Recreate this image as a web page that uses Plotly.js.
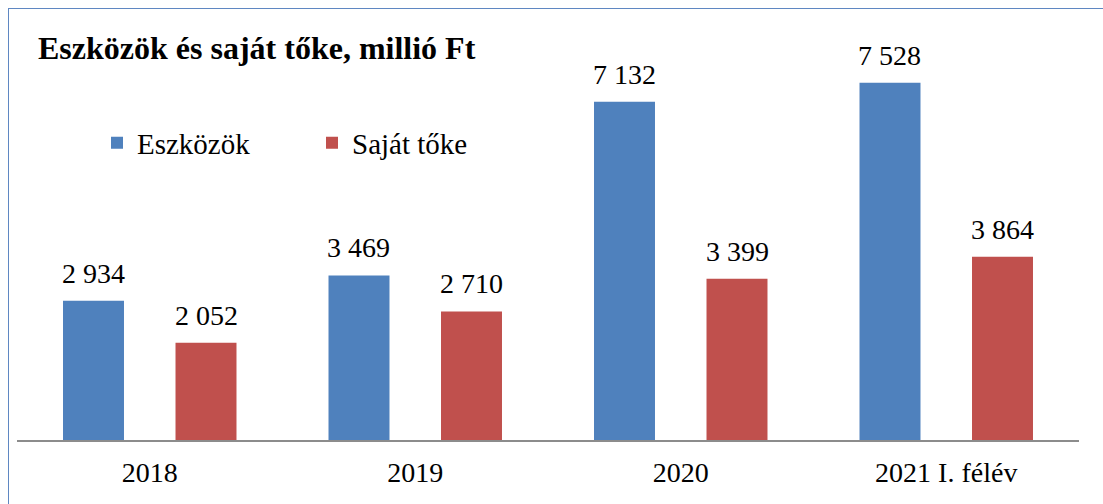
<!DOCTYPE html>
<html>
<head>
<meta charset="utf-8">
<script src="https://cdn.plot.ly/plotly-3.0.1.min.js"></script>
<style>
html,body{margin:0;padding:0;background:#fff;overflow:hidden;}
#wrap{position:relative;width:1103px;height:504px;overflow:hidden;}
#chart{width:1103px;height:504px;}
#frame{position:absolute;left:8px;top:8px;width:1200px;height:600px;border-left:1.5px solid #5F87C2;border-top:1.5px solid #5F87C2;pointer-events:none;}
</style>
</head>
<body>
<div id="wrap"><div id="chart"></div><div id="frame"></div></div>
<script>
var categories = ['2018', '2019', '2020', '2021 I. félév'];
var eszkozok = [2934, 3469, 7132, 7528];
var sajatToke = [2052, 2710, 3399, 3864];
var seriesNames = ['Eszközök', 'Saját tőke'];
var chartTitle = 'Eszközök és saját tőke, millió Ft';

var W = 1103, H = 504;
var L = 17, R = 24, T = 13, B = 64;
var pw = W - L - R, ph = H - T - B;
var font = '"Liberation Serif", "Times New Roman", Times, serif';

function fmt(v) { return String(v).replace(/\B(?=(\d{3})+(?!\d))/g, ' '); }

var traces = [
  {type: 'bar', name: seriesNames[0], x: categories, y: eszkozok, marker: {color: '#4F81BD'}, hoverinfo: 'none'},
  {type: 'bar', name: seriesNames[1], x: categories, y: sajatToke, marker: {color: '#C0504D'}, hoverinfo: 'none'}
];

var catW = pw / categories.length;
var bargap = 0.1525, bargroupgap = 0.458;
var slot = (1 - bargap) * catW / 2;
var ann = [];
[eszkozok, sajatToke].forEach(function (arr, s) {
  arr.forEach(function (v, i) {
    ann.push({x: i, y: v, xref: 'x', yref: 'y', text: fmt(v), showarrow: false,
      xanchor: 'center', yanchor: 'bottom', xshift: (s === 0 ? -1 : 1) * slot / 2, yshift: 10,
      font: {family: font, size: 28, color: '#000'}});
  });
});

var layout = {
  width: W, height: H,
  margin: {l: L, r: R, t: T, b: B, autoexpand: false},
  paper_bgcolor: '#fff', plot_bgcolor: '#fff',
  barmode: 'group', bargap: bargap, bargroupgap: bargroupgap,
  showlegend: true,
  font: {family: font, color: '#000'},
  title: {text: '<b>' + chartTitle + '</b>', xref: 'paper', yref: 'paper', x: (38 - L) / pw, xanchor: 'left',
    y: (H - B - 48) / ph, yanchor: 'middle', font: {family: font, size: 32, color: '#000'}},
  legend: {orientation: 'h', x: (97 - L) / pw, xanchor: 'left',
    y: (H - B - 143) / ph, yanchor: 'middle', font: {family: font, size: 29, color: '#000'},
    entrywidth: 170, entrywidthmode: 'pixels', bgcolor: 'rgba(0,0,0,0)'},
  xaxis: {type: 'category', range: [-0.5, 3.5], autorange: false, showline: true, linecolor: '#8C8C8C', linewidth: 1.5,
    ticks: '', showgrid: false, zeroline: false, ticklabelstandoff: 7,
    tickfont: {family: font, size: 28, color: '#000'}, fixedrange: true},
  yaxis: {range: [0, 9000], autorange: false, showgrid: false, zeroline: false, showticklabels: false, showline: false, ticks: '', fixedrange: true},
  annotations: ann
};

Plotly.newPlot('chart', traces, layout, {displayModeBar: false, staticPlot: true});
</script>
</body>
</html>
